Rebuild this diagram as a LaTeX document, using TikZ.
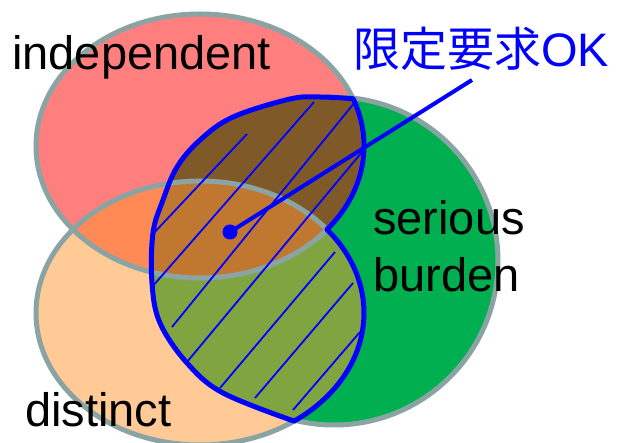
\documentclass[tikz,border=0pt]{standalone}
\usepackage{fontspec}
\setmainfont{Liberation Sans}
\newfontfamily\cjkfont{Noto Sans CJK JP}
\definecolor{redfill}{HTML}{FF7F7F}
\definecolor{peachfill}{HTML}{FFCA96}
\definecolor{rpfill}{HTML}{FF8A55}
\definecolor{greenfill}{HTML}{00B050}
\definecolor{rgfill}{HTML}{7F5A28}
\definecolor{pgfill}{HTML}{80A440}
\definecolor{rpgfill}{HTML}{C07830}
\definecolor{edgegray}{HTML}{8AA4A4}
\begin{document}
\begin{tikzpicture}[x=1pt,y=-1pt,
  setedge/.style={draw=edgegray, line width=5pt},
  hatchline/.style={blue, line width=1.8pt},
  outline/.style={blue, line width=5pt, line join=round},
  lbl/.style={inner sep=0pt, anchor=base west, font=\fontsize{47}{57}\selectfont}]
\useasboundingbox (0,0) rectangle (619,443);
\def\redE{(200,146) ellipse [x radius=164pt, y radius=132pt]}
\def\peaE{(200,313) ellipse [x radius=164pt, y radius=132pt]}
\def\grnE{(334,261) circle [radius=164pt]}
\def\blueP{(353.1,98.7) arc[start angle=21, end angle=-39.24, x radius=164pt, y radius=132pt]
  arc[start angle=39.24, end angle=-55, x radius=164pt, y radius=132pt]
  -- plot[smooth, tension=0.6] coordinates {(294.1,421.1) (223,393) (187,363) (160,323) (152,283) (153,233) (163,200) (177,167) (200,140) (233,117) (290,99) (320,97) (353.1,98.7)} -- cycle}
% red and peach sets
\fill[redfill] \redE;
\fill[peachfill] \peaE;
\begin{scope}
  \clip \redE;
  \fill[rpfill] \peaE;
\end{scope}
\path[setedge] \redE;
\path[setedge] \peaE;
% green set
\path[setedge, fill=greenfill] \grnE;
% hatched region
\begin{scope}
  \clip \blueP;
  \fill[rgfill] \redE;
  \fill[pgfill] \peaE;
  \begin{scope}
    \clip \redE;
    \fill[rpgfill] \peaE;
  \end{scope}
  \path[setedge] \redE;
  \path[setedge] \peaE;
\end{scope}
\draw[hatchline] (152,235) -- (247,134);
\draw[hatchline] (152,287) -- (314,102);
\draw[hatchline] (172,327) -- (355,102);
\draw[hatchline] (187,362) -- (362,152);
\draw[hatchline] (220,388) -- (335,252);
\draw[hatchline] (255,398) -- (353,283);
\draw[hatchline] (293,410) -- (360,332);
\draw[outline] \blueP;
% pointer
\node[circle, fill=blue, inner sep=0pt, minimum size=15pt] (dot) at (230,232) {};
\coordinate (lead) at (472,80);
\draw[blue, line width=4pt] (dot.center) -- (lead);
% labels
\node[lbl] (indep) at (12,70) {independent};
\node[lbl] (dist) at (25,427) {distinct};
\node[lbl, align=left] (serb) at (373,292) {serious\\burden};
\node[lbl, text=blue] (ok) at (353,67) {{\cjkfont 限定要求}OK};
\end{tikzpicture}
\end{document}
